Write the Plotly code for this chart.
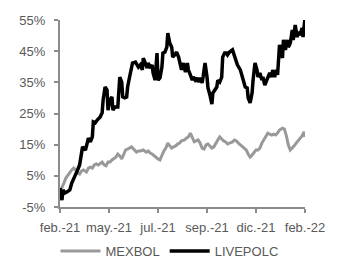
import plotly.graph_objects as go

# trading-day index (0 = feb.-21, 250 = feb.-22) and cumulative return in %
MEXBOL_X = [0, 2, 4, 6, 8, 10, 12, 14, 16, 18, 20, 22, 24, 27, 29, 31, 33, 35, 37, 39,
            41, 43, 45, 47, 49, 51, 53, 55, 57, 59, 61, 63, 65, 67, 69, 71, 73, 76, 78, 80,
            82, 85, 88, 90, 92, 94, 96, 98, 100, 102, 104, 106, 108, 110, 112, 114, 116, 118, 120, 122,
            124, 127, 129, 131, 133, 135, 137, 139, 141, 143, 145, 147, 149, 151, 153, 155, 157, 159, 161, 163,
            165, 167, 169, 171, 173, 176, 178, 180, 182, 184, 186, 188, 190, 192, 194, 196, 198, 200, 202, 204,
            206, 208, 210, 212, 214, 216, 218, 220, 222, 224, 227, 229, 231, 233, 235, 237, 239, 241, 243, 245,
            247, 249, 250]
MEXBOL_Y = [-0.2, 1.1, 2.7, 4.3, 5.3, 6.2, 6.9, 7.5, 6.9, 5.9, 5.6, 6.6, 6.9, 6.2, 7.5, 7.8, 7.5, 8.5, 8.8, 8.5,
            9.1, 9.4, 8.5, 8.2, 9.4, 9.4, 10.1, 10.7, 11.0, 12.0, 11.4, 10.4, 11.7, 13.3, 13.6, 13.9, 14.3, 13.3, 12.6, 13.0,
            13.0, 13.3, 12.6, 13.0, 12.3, 12.0, 11.4, 11.0, 10.4, 10.1, 11.7, 13.0, 13.9, 15.5, 14.6, 13.9, 14.3, 14.6, 15.2, 15.5,
            16.2, 16.5, 17.1, 17.5, 18.7, 17.1, 15.9, 16.2, 16.5, 15.5, 13.9, 13.6, 14.9, 15.2, 14.6, 13.9, 14.3, 15.2, 16.5, 17.5,
            16.8, 16.2, 15.9, 15.2, 15.5, 15.9, 16.5, 16.2, 15.5, 14.9, 14.6, 13.9, 13.3, 12.0, 11.0, 11.7, 12.6, 13.3, 13.3, 13.9,
            15.5, 16.5, 17.8, 18.7, 18.4, 18.1, 18.4, 18.1, 18.7, 19.7, 20.3, 20.0, 17.8, 14.9, 13.3, 13.9, 14.6, 15.5, 16.2, 17.1,
            17.8, 19.1, 17.5]

LIVEPOLC_X = [0, 2, 3, 5, 7, 10, 12, 15, 18, 20, 22, 23, 26, 28, 29, 31, 33, 34, 36, 38,
              41, 43, 44, 46, 48, 49, 51, 53, 54, 56, 59, 61, 63, 64, 66, 68, 69, 71, 73, 74,
              77, 79, 80, 82, 84, 85, 87, 89, 90, 92, 94, 95, 97, 99, 100, 102, 104, 105, 107, 109,
              110, 112, 114, 115, 117, 119, 121, 122, 124, 126, 128, 130, 131, 133, 135, 136, 138, 140, 141, 143,
              145, 146, 148, 150, 151, 153, 155, 156, 158, 160, 161, 163, 165, 166, 168, 170, 171, 173, 176, 177,
              179, 181, 184, 186, 187, 189, 191, 192, 194, 196, 197, 199, 201, 202, 204, 206, 207, 209, 211, 212,
              214, 216, 217, 219, 221, 222, 224, 227, 228, 230, 232, 233, 235, 237, 238, 240, 242, 243, 245, 247,
              248, 250]
LIVEPOLC_Y = [1.1, -2.8, 0.5, -0.5, -0.2, 0.5, 2.7, 4.6, 6.9, 8.5, 12.3, 14.3, 13.3, 15.5, 17.1, 15.9, 17.5, 22.3, 22.0, 22.9,
              23.9, 25.2, 29.3, 33.5, 32.5, 26.1, 29.3, 30.3, 26.1, 27.1, 27.1, 36.7, 35.1, 30.3, 30.0, 30.3, 33.5, 36.7, 39.0, 41.2,
              41.5, 40.6, 39.9, 40.6, 39.0, 42.8, 41.2, 39.6, 41.2, 39.6, 40.6, 38.0, 35.7, 44.4, 35.7, 36.4, 39.9, 44.4, 44.7, 46.3,
              50.8, 47.6, 46.3, 43.1, 43.8, 44.7, 43.1, 41.2, 39.0, 41.2, 38.3, 41.2, 39.0, 37.4, 35.7, 36.7, 35.7, 36.4, 35.1, 36.4,
              34.8, 36.7, 41.2, 36.7, 33.2, 30.9, 28.0, 31.6, 32.5, 33.5, 35.7, 35.1, 36.7, 43.1, 44.4, 44.4, 43.8, 44.7, 45.4, 44.4,
              42.2, 40.6, 39.0, 36.7, 34.8, 33.5, 33.2, 30.0, 28.4, 31.6, 35.7, 41.2, 39.0, 36.7, 38.0, 35.7, 36.7, 34.1, 35.7, 36.7,
              38.0, 36.7, 39.0, 36.7, 39.0, 37.4, 47.0, 42.8, 48.6, 45.4, 48.6, 46.3, 47.6, 51.8, 48.6, 53.4, 49.5, 51.2, 50.2, 52.4,
              49.5, 55.6]

TICK_POS = [0, 50, 100, 150, 200, 250]
TICK_TEXT = ["feb.-21", "may.-21", "jul.-21", "sep.-21", "dic.-21", "feb.-22"]
Y_TICKS = [-5, 5, 15, 25, 35, 45, 55]
Y_TICK_TEXT = ["-5%", "5%", "15%", "25%", "35%", "45%", "55%"]

assert len(MEXBOL_X) == len(MEXBOL_Y)
assert len(LIVEPOLC_X) == len(LIVEPOLC_Y)

FONT = "Liberation Sans, Arial, sans-serif"
AXIS_COLOR = "#8c8c8c"
TEXT_COLOR = "#595959"
FS = 13

fig = go.Figure()
fig.add_trace(go.Scatter(x=MEXBOL_X, y=MEXBOL_Y, mode="lines", name="MEXBOL",
                         line=dict(color="#999999", width=3)))
fig.add_trace(go.Scatter(x=LIVEPOLC_X, y=LIVEPOLC_Y, mode="lines", name="LIVEPOLC",
                         line=dict(color="#000000", width=3.5)))

fig.update_layout(
    width=339, height=263,
    margin=dict(l=60, r=34, t=20, b=56, autoexpand=False),
    paper_bgcolor="white", plot_bgcolor="white",
    font=dict(family=FONT, size=FS, color=TEXT_COLOR),
    showlegend=True,
    legend=dict(orientation="h", xref="container", yref="container",
                x=0.5, xanchor="center", y=0.045, yanchor="middle",
                font=dict(family=FONT, size=FS, color=TEXT_COLOR),
                itemwidth=40, tracegroupgap=0, bgcolor="rgba(0,0,0,0)"),
)
fig.update_xaxes(range=[0, 250], tickmode="array", tickvals=TICK_POS, ticktext=TICK_TEXT,
                 tickangle=0, automargin=False, ticklabelstandoff=3,
                 showgrid=False, zeroline=False, showline=True, linecolor=AXIS_COLOR, linewidth=2,
                 ticks="outside", ticklen=4, tickcolor=AXIS_COLOR, tickwidth=1.5,
                 tickfont=dict(family=FONT, size=FS, color=TEXT_COLOR))
fig.update_yaxes(range=[-5, 55], tickmode="array", tickvals=Y_TICKS, ticktext=Y_TICK_TEXT,
                 automargin=False,
                 showgrid=False, zeroline=False, showline=True, linecolor=AXIS_COLOR, linewidth=2,
                 ticks="outside", ticklen=4, tickcolor=AXIS_COLOR, tickwidth=1.5,
                 ticklabelstandoff=6,
                 tickfont=dict(family=FONT, size=FS, color=TEXT_COLOR))

fig.write_html("out.html", config={"displayModeBar": False},
               post_script="document.body.style.margin='0';document.body.style.overflow='hidden';")
